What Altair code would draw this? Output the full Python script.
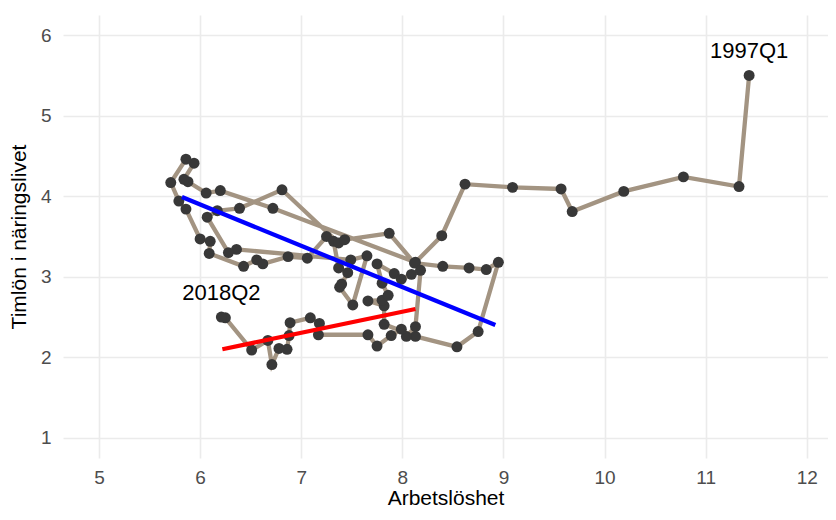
import altair as alt
import pandas as pd

# Arbetslöshet (x) och timlöneökning i näringslivet (y), 1997Q1 -> 2018Q2
arbetsloshet = [11.43, 11.33, 10.78, 10.19, 9.68, 9.57, 9.09, 8.62, 8.39, 8.13,
                6.72, 6.20, 6.06, 5.88, 5.84, 5.94, 5.86, 5.71, 5.79, 5.86,
                6.00, 6.10, 6.09, 6.43, 6.56, 6.62, 6.87, 7.06, 7.25, 7.32,
                7.37, 7.46, 7.40, 7.38, 7.51, 7.65, 7.49, 6.36, 6.28, 6.07,
                6.17, 6.39, 6.81, 7.37, 7.43, 7.87, 8.12, 8.40, 8.66, 8.83,
                8.95, 8.75, 8.54, 8.13, 7.82, 7.82, 7.66, 7.80, 7.86, 7.80,
                7.75, 7.92, 7.99, 8.09, 8.18, 8.13, 8.04, 7.99, 7.89, 7.75,
                7.66, 7.17, 7.18, 7.09, 6.89, 6.88, 6.86, 6.78, 6.71, 6.67,
                6.51, 6.25, 6.21]
timlon = [5.50, 4.12, 4.24, 4.06, 3.81, 4.09, 4.11, 4.15, 3.51, 3.18,
          3.85, 4.07, 4.04, 4.18, 4.21, 4.41, 4.46, 4.17, 3.94, 3.84,
          3.47, 3.44, 3.29, 3.13, 3.21, 3.16, 3.25, 3.23, 3.50, 3.44,
          3.11, 3.05, 2.91, 2.87, 2.65, 3.26, 3.21, 3.34, 3.30, 3.74,
          3.82, 3.85, 4.08, 3.42, 3.46, 3.54, 3.17, 3.13, 3.11, 3.09,
          3.18, 2.32, 2.13, 2.26, 2.41, 2.64, 2.70, 2.71, 2.77, 2.92,
          3.16, 3.04, 2.97, 3.03, 3.08, 2.38, 2.26, 2.35, 2.27, 2.14,
          2.28, 2.28, 2.42, 2.49, 2.43, 2.27, 2.10, 2.11, 1.91, 2.21,
          2.09, 2.49, 2.50]

# Regression lines (endpoints)
fit_group = ["tidig", "tidig", "sen", "sen"]
fit_x = [5.82, 8.92, 6.22, 8.13]
fit_y = [3.99, 2.40, 2.10, 2.60]
fit_color = ["#0000FF", "#0000FF", "#FF0000", "#FF0000"]

label_text = ["1997Q1", "2018Q2"]

x_ticks = [5, 6, 7, 8, 9, 10, 11, 12]
y_ticks = [1, 2, 3, 4, 5, 6]

df = pd.DataFrame({"arb": arbetsloshet, "lon": timlon,
                   "t": list(range(len(arbetsloshet)))})
df_fit = pd.DataFrame({"g": fit_group, "arb": fit_x, "lon": fit_y, "farg": fit_color})
df_lab = pd.DataFrame({"txt": label_text,
                       "arb": [arbetsloshet[0], arbetsloshet[-1]],
                       "lon": [timlon[0], timlon[-1]]})

xs = alt.Scale(domain=[4.644, 12.21], nice=False, zero=False)
ys = alt.Scale(domain=[0.75, 6.25], nice=False, zero=False)

x_axis = alt.Axis(values=x_ticks, format="d", labelPadding=10, titlePadding=0)
y_axis = alt.Axis(values=y_ticks, format="d", labelPadding=12, titlePadding=11)

X = alt.X("arb:Q", scale=xs, axis=x_axis, title="Arbetslöshet")
Y = alt.Y("lon:Q", scale=ys, axis=y_axis, title="Timlön i näringslivet")

base = alt.Chart(df)

path = base.mark_line(color="#A39482", strokeWidth=4.3, clip=True).encode(
    x=X, y=Y, order=alt.Order("t:Q"),
)

points = base.mark_circle(color="#383838", opacity=1, size=120, clip=True).encode(
    x=X, y=Y,
)

fits = alt.Chart(df_fit).mark_line(strokeWidth=4.3, clip=True).encode(
    x=X, y=Y,
    detail="g:N",
    color=alt.Color("farg:N", scale=None),
)

labels = alt.Chart(df_lab).mark_text(
    fontSize=22, font="Liberation Sans", color="#000000",
    dy=-24, baseline="middle", align="center",
).encode(
    x=X, y=Y,
    text="txt:N",
)

chart = alt.layer(path, points, fits, labels).properties(
    width=765, height=443,
    autosize=alt.AutoSizeParams(type="none"),
    padding={"left": 55, "top": 7, "right": 0, "bottom": 54},
    background="white",
).configure_view(stroke=None).configure_axis(
    grid=True, gridColor="#EBEBEB", gridWidth=1.6,
    domain=False, ticks=False, tickSize=0,
    labelFont="Liberation Sans", labelFontSize=19, labelColor="#4D4D4D",
    titleFont="Liberation Sans", titleFontSize=21, titleFontWeight="normal",
    titleColor="#000000",
)

chart.save("out.html", embed_options={"renderer": "svg", "actions": False})
